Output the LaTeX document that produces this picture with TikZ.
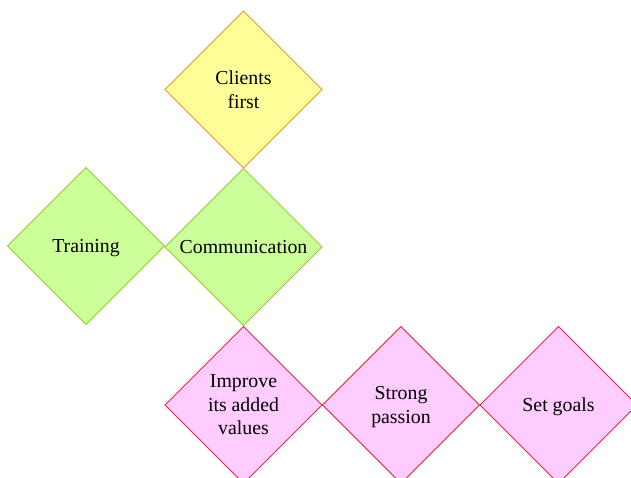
\documentclass[tikz,border=0pt]{standalone}
\usepackage{fontspec}
\setmainfont{Liberation Serif}
\usetikzlibrary{shapes.geometric}
\definecolor{yfill}{RGB}{255,255,153}
\definecolor{ydraw}{RGB}{236,150,60}
\definecolor{gfill}{RGB}{204,255,153}
\definecolor{gdraw}{RGB}{153,204,51}
\definecolor{pfill}{RGB}{255,204,255}
\definecolor{pdraw}{RGB}{225,40,60}
\tikzset{
  dia/.style={diamond, aspect=1, inner sep=0pt, minimum width=157.5pt, minimum height=157.5pt,
    line width=0.9pt, align=center, text depth=0pt, font=\fontsize{19.8}{23.5}\selectfont},
  ydia/.style={dia, fill=yfill, draw=ydraw},
  gdia/.style={dia, fill=gfill, draw=gdraw},
  pdia/.style={dia, fill=pfill, draw=pdraw}
}
\begin{document}
\begin{tikzpicture}[x=1pt,y=-1pt]
\useasboundingbox (0,0) rectangle (631,477);
\node[ydia] (clients) at (243.5,89.5) {Clients\\first};
\node[gdia] (training) at (86,246) {Training};
\node[gdia] (comm) at (243.5,247) {Communication};
\node[pdia] (improve) at (243.5,405) {Improve\\its added\\values};
\node[pdia] (passion) at (401,405) {Strong\\passion};
\node[pdia] (goals) at (558.5,405) {Set goals};
\end{tikzpicture}
\end{document}
